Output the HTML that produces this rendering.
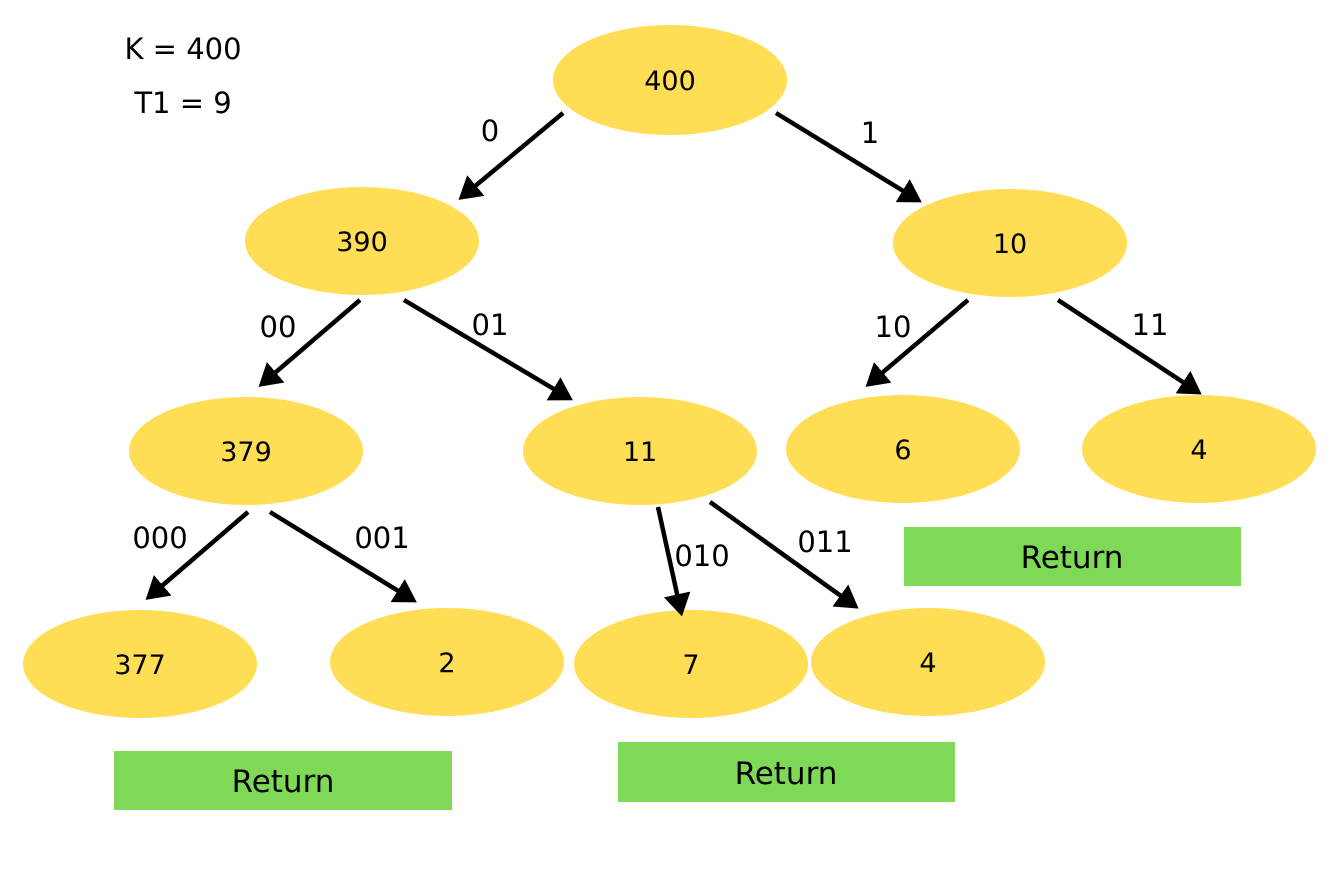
<!DOCTYPE html>
<html><head><meta charset="utf-8"><style>
html,body{margin:0;padding:0;background:#fff;}
</style></head><body>
<svg width="1340" height="868" viewBox="0 0 1340 868" xmlns="http://www.w3.org/2000/svg" font-family="DejaVu Sans, Liberation Sans, sans-serif">
<defs>
<marker id="a" markerWidth="6" markerHeight="6" refX="4" refY="3" orient="auto" markerUnits="strokeWidth">
<path d="M0,0 L5,3 L0,6 Z" fill="#000"/>
</marker>
</defs>
<rect width="1340" height="868" fill="#fff"/>
<g fill="#FFDD55">
<ellipse cx="670" cy="80" rx="117" ry="55"/>
<ellipse cx="362" cy="241" rx="117" ry="54"/>
<ellipse cx="1010" cy="243" rx="117" ry="54"/>
<ellipse cx="246" cy="451" rx="117" ry="54"/>
<ellipse cx="640" cy="451" rx="117" ry="54"/>
<ellipse cx="903" cy="449" rx="117" ry="54"/>
<ellipse cx="1199" cy="449" rx="117" ry="54"/>
<ellipse cx="140" cy="664" rx="117" ry="54"/>
<ellipse cx="447" cy="662" rx="117" ry="54"/>
<ellipse cx="691" cy="664" rx="117" ry="54"/>
<ellipse cx="928" cy="662" rx="117" ry="54"/>
</g>
<g fill="#7ED957">
<rect x="904" y="527" width="337" height="59"/>
<rect x="114" y="751" width="338" height="59"/>
<rect x="618" y="742" width="337" height="60"/>
</g>
<g stroke="#000" stroke-width="4.5" marker-end="url(#a)">
<line x1="563" y1="113" x2="462" y2="197"/>
<line x1="776" y1="113" x2="918" y2="200"/>
<line x1="360" y1="300" x2="262" y2="384"/>
<line x1="404" y1="300" x2="569" y2="398"/>
<line x1="968" y1="300" x2="869" y2="384"/>
<line x1="1058" y1="300" x2="1198" y2="392"/>
<line x1="248" y1="512" x2="149" y2="597"/>
<line x1="270" y1="512" x2="413" y2="600"/>
<line x1="658" y1="507" x2="681" y2="612"/>
<line x1="710" y1="502" x2="855" y2="606"/>
</g>
<g font-size="27" text-anchor="middle" fill="#000">
<text x="670" y="90">400</text>
<text x="362" y="251">390</text>
<text x="1010" y="253">10</text>
<text x="246" y="461">379</text>
<text x="640" y="461">11</text>
<text x="903" y="459">6</text>
<text x="1199" y="459">4</text>
<text x="140" y="674">377</text>
<text x="447" y="672">2</text>
<text x="691" y="674">7</text>
<text x="928" y="672">4</text>
</g>
<g font-size="29" text-anchor="middle" fill="#000">
<text x="490" y="141">0</text>
<text x="870" y="143">1</text>
<text x="278" y="337">00</text>
<text x="490" y="335">01</text>
<text x="893" y="337">10</text>
<text x="1150" y="335">11</text>
<text x="160" y="548">000</text>
<text x="382" y="548">001</text>
<text x="702" y="566">010</text>
<text x="825" y="552">011</text>
<text x="183" y="59">K = 400</text>
<text x="183" y="113">T1 = 9</text>
</g>
<g font-size="31" text-anchor="middle" fill="#000">
<text x="1072" y="568">Return</text>
<text x="283" y="792">Return</text>
<text x="786" y="784">Return</text>
</g>
</svg>
</body></html>
